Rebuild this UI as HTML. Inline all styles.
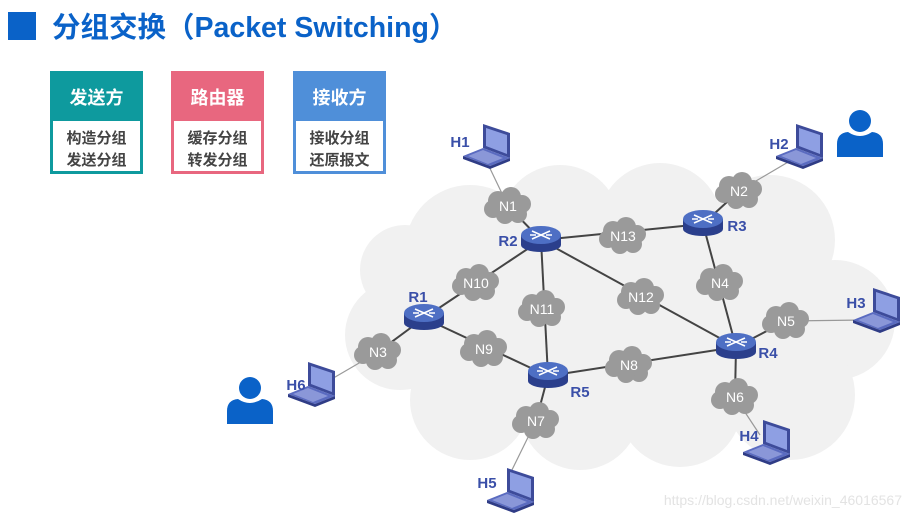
<!DOCTYPE html>
<html><head><meta charset="utf-8"><style>
html,body{margin:0;padding:0;background:#fff;width:912px;height:521px;overflow:hidden}
svg{display:block}
</style></head><body>
<svg width="912" height="521" viewBox="0 0 912 521" xmlns="http://www.w3.org/2000/svg" font-family="Liberation Sans, Noto Sans CJK SC, sans-serif">
<defs>
<g id="cl">
 <circle cx="-10" cy="-5" r="10"/><circle cx="3" cy="-9" r="10"/><circle cx="14" cy="-2" r="9"/>
 <circle cx="10" cy="8" r="9"/><circle cx="-3" cy="9" r="9"/><circle cx="-15" cy="3" r="9"/>
 <ellipse cx="0" cy="0" rx="17" ry="11"/>
</g>
<g id="rt">
 <rect x="-20" y="-5" width="40" height="10" fill="#2b3f8c"/>
 <ellipse cx="0" cy="5" rx="20" ry="7" fill="#2b3f8c"/>
 <ellipse cx="0" cy="-5" rx="20" ry="9" fill="#4e6fc4"/>
 <path d="M-9,-9 L9,-1 M9,-9 L-9,-1 M-11,-5 L-5,-5 M5,-5 L11,-5" stroke="#fff" stroke-width="1.6" fill="none"/>
</g>
<g id="lp">
 <polygon points="-5,2 -5,-22 22,-13 22,12" fill="#3d4b9a"/>
 <polygon points="-2,0 -2,-18 19,-11 19,8" fill="#8e9fe3"/>
 <polygon points="-25,10 -5,2 22,12 2,20" fill="#5a6bc0"/>
 <polygon points="-20,10 -5,4 15,12 0,18" fill="#8a97d8"/>
 <polygon points="-25,10 2,20 2,23 -25,13" fill="#2f3c86"/>
 <polygon points="2,20 22,12 22,15 2,23" fill="#2f3c86"/>
</g>
<g id="ps" fill="#0a62c8">
 <circle cx="0" cy="-12" r="11"/>
 <path d="M-23,24 L-23,11 Q-23,0 -12,-1 Q0,7 12,-1 Q23,0 23,11 L23,24 Z"/>
</g>
</defs>

<rect x="8" y="12" width="28" height="28" fill="#0a62c8"/>
<text x="52" y="37" font-size="28.5" font-weight="bold" fill="#0a62c8">分组交换（Packet Switching）</text>

<g font-weight="bold" text-anchor="middle">
 <rect x="50" y="71" width="93" height="103" fill="#0e9a9e"/>
 <rect x="53" y="121" width="87" height="50" fill="#fff"/>
 <text x="96.5" y="104" font-size="18" fill="#fff">发送方</text>
 <text x="96.5" y="143" font-size="15" fill="#444">构造分组</text>
 <text x="96.5" y="165" font-size="15" fill="#444">发送分组</text>

 <rect x="171" y="71" width="93" height="103" fill="#e8677f"/>
 <rect x="174" y="121" width="87" height="50" fill="#fff"/>
 <text x="217.5" y="104" font-size="18" fill="#fff">路由器</text>
 <text x="217.5" y="143" font-size="15" fill="#444">缓存分组</text>
 <text x="217.5" y="165" font-size="15" fill="#444">转发分组</text>

 <rect x="293" y="71" width="93" height="103" fill="#4f8fd9"/>
 <rect x="296" y="121" width="87" height="50" fill="#fff"/>
 <text x="339.5" y="104" font-size="18" fill="#fff">接收方</text>
 <text x="339.5" y="143" font-size="15" fill="#444">接收分组</text>
 <text x="339.5" y="165" font-size="15" fill="#444">还原报文</text>
</g>

<g fill="#f1f1f1">
 <circle cx="470" cy="250" r="65"/><circle cx="560" cy="225" r="60"/><circle cx="660" cy="225" r="62"/>
 <circle cx="770" cy="240" r="65"/><circle cx="835" cy="320" r="60"/><circle cx="790" cy="395" r="65"/>
 <circle cx="680" cy="405" r="62"/><circle cx="580" cy="410" r="60"/><circle cx="470" cy="400" r="60"/>
 <circle cx="400" cy="335" r="55"/><circle cx="405" cy="270" r="45"/>
 <rect x="420" y="240" width="400" height="170"/>
</g>

<g stroke="#999" stroke-width="1.2">
 <line x1="485" y1="158" x2="508" y2="206"/>
 <line x1="795" y1="158" x2="739" y2="191"/>
 <line x1="865" y1="320" x2="786" y2="321"/>
 <line x1="760" y1="435" x2="735" y2="397"/>
 <line x1="508" y1="478" x2="536" y2="421"/>
 <line x1="330" y1="380" x2="378" y2="352"/>
</g>
<g stroke="#444" stroke-width="2">
 <line x1="508" y1="206" x2="541" y2="240"/>
 <line x1="541" y1="240" x2="703" y2="224"/>
 <line x1="703" y1="224" x2="739" y2="191"/>
 <line x1="703" y1="224" x2="736" y2="347"/>
 <line x1="541" y1="240" x2="736" y2="347"/>
 <line x1="541" y1="240" x2="424" y2="318"/>
 <line x1="541" y1="240" x2="548" y2="376"/>
 <line x1="424" y1="318" x2="548" y2="376"/>
 <line x1="548" y1="376" x2="736" y2="347"/>
 <line x1="736" y1="347" x2="786" y2="321"/>
 <line x1="736" y1="347" x2="735" y2="397"/>
 <line x1="548" y1="376" x2="536" y2="421"/>
 <line x1="424" y1="318" x2="378" y2="352"/>
</g>

<g fill="#9a9a9a">
 <use href="#cl" x="508" y="206"/><use href="#cl" x="739" y="191"/><use href="#cl" x="623" y="236"/>
 <use href="#cl" x="720" y="283"/><use href="#cl" x="476" y="283"/><use href="#cl" x="542" y="309"/>
 <use href="#cl" x="641" y="297"/><use href="#cl" x="786" y="321"/><use href="#cl" x="484" y="349"/>
 <use href="#cl" x="629" y="365"/><use href="#cl" x="378" y="352"/><use href="#cl" x="735" y="397"/>
 <use href="#cl" x="536" y="421"/>
</g>
<g fill="#fff" font-size="14" text-anchor="middle" font-family="Liberation Sans Narrow, Liberation Sans, sans-serif">
 <text x="508" y="211">N1</text><text x="739" y="196">N2</text><text x="623" y="241">N13</text>
 <text x="720" y="288">N4</text><text x="476" y="288">N10</text><text x="542" y="314">N11</text>
 <text x="641" y="302">N12</text><text x="786" y="326">N5</text><text x="484" y="354">N9</text>
 <text x="629" y="370">N8</text><text x="378" y="357">N3</text><text x="735" y="402">N6</text>
 <text x="536" y="426">N7</text>
</g>

<use href="#rt" x="424" y="318"/><use href="#rt" x="541" y="240"/><use href="#rt" x="703" y="224"/>
<use href="#rt" x="736" y="347"/><use href="#rt" x="548" y="376"/>

<use href="#lp" x="488" y="146"/><use href="#lp" x="801" y="146"/><use href="#lp" x="878" y="310"/>
<use href="#lp" x="768" y="442"/><use href="#lp" x="512" y="490"/><use href="#lp" x="313" y="384"/>

<use href="#ps" x="860" y="133"/><use href="#ps" x="250" y="400"/>

<g fill="#3a4fa8" font-size="15" font-weight="bold" text-anchor="middle">
 <text x="418" y="302">R1</text><text x="508" y="246">R2</text><text x="737" y="231">R3</text>
 <text x="768" y="358">R4</text><text x="580" y="397">R5</text>
 <text x="460" y="147">H1</text><text x="779" y="149">H2</text><text x="856" y="308">H3</text>
 <text x="749" y="441">H4</text><text x="487" y="488">H5</text><text x="296" y="390">H6</text>
</g>

<text x="902" y="505" font-size="14" fill="#e3e3e3" text-anchor="end">https://blog.csdn.net/weixin_46016567</text>
</svg>
</body></html>
